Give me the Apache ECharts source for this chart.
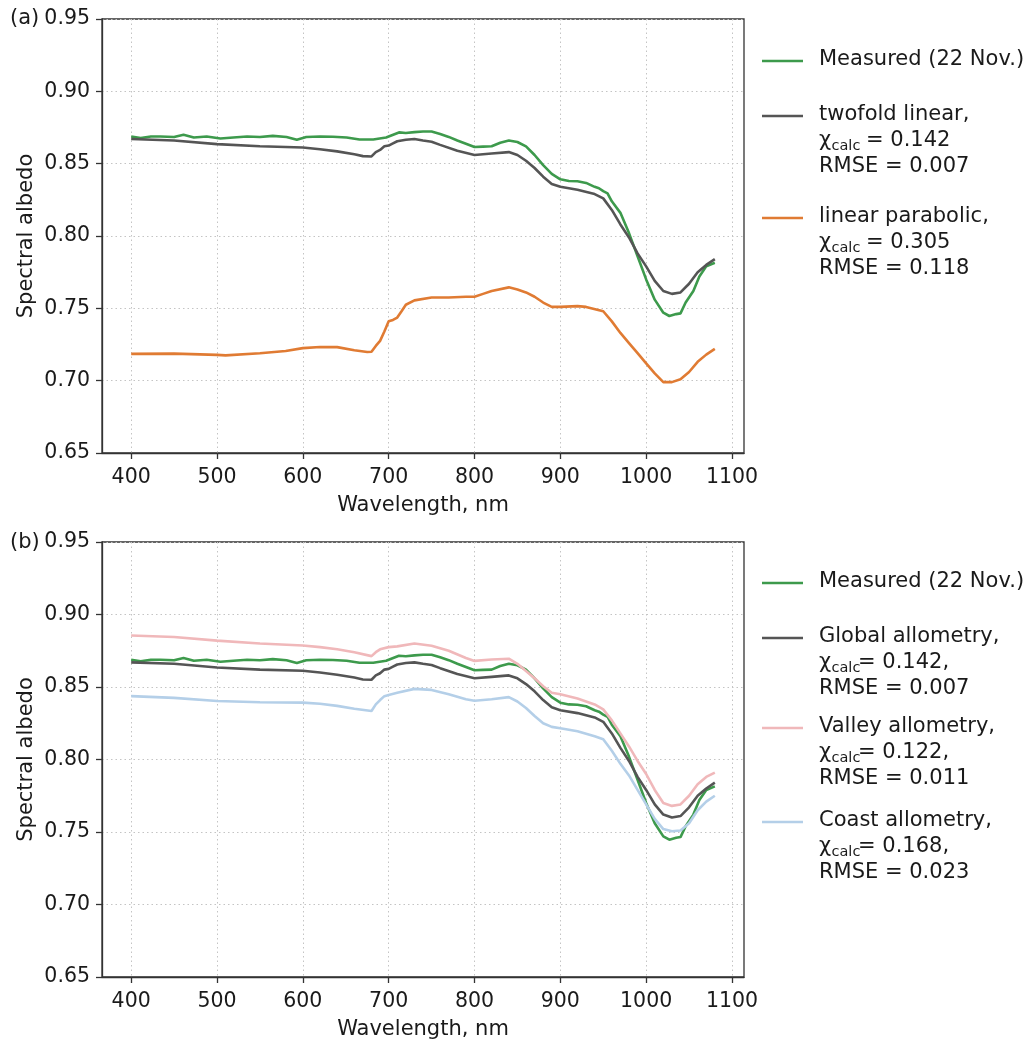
<!DOCTYPE html>
<html>
<head>
<meta charset="utf-8">
<script src="https://cdn.jsdelivr.net/npm/echarts@6/dist/echarts.min.js"></script>
<style>
html, body { margin: 0; padding: 0; background: #fff; }
#chart { width: 1031px; height: 1042px; }
</style>
</head>
<body>
<div id="chart"></div>
<script>
// Spectral albedo, wavelength (nm) vs albedo
const xTicks = [400, 500, 600, 700, 800, 900, 1000, 1100];

const measured = [
  [400, 0.8688], [411, 0.8677], [423, 0.8688], [434, 0.8688], [450, 0.8684], [461, 0.8700],
  [473, 0.8681], [488, 0.8688], [504, 0.8674], [519, 0.8681], [535, 0.8688], [550, 0.8684],
  [565, 0.8692], [581, 0.8684], [593, 0.8665], [604, 0.8684], [620, 0.8688], [635, 0.8686],
  [651, 0.8681], [666, 0.8667], [682, 0.8667], [697, 0.8681], [712, 0.8716], [720, 0.8712],
  [730, 0.8718], [740, 0.8722], [750, 0.8722], [760, 0.8705], [770, 0.8685], [780, 0.8660],
  [790, 0.8638], [800, 0.8615], [810, 0.8618], [820, 0.8620], [830, 0.8645], [840, 0.8660],
  [850, 0.8650], [860, 0.8620], [870, 0.8560], [880, 0.8490], [890, 0.8430], [900, 0.8392],
  [910, 0.8380], [920, 0.8378], [930, 0.8367], [940, 0.8340], [945, 0.8330], [950, 0.8310],
  [955, 0.8295], [960, 0.8240], [970, 0.8160], [980, 0.8020], [990, 0.7860], [1000, 0.7700],
  [1010, 0.7560], [1020, 0.7470], [1027, 0.7447], [1035, 0.7460], [1040, 0.7465], [1046, 0.7540],
  [1055, 0.7620], [1062, 0.7720], [1070, 0.7790], [1080, 0.7815]
];

const twofoldLinear = [
  [400, 0.867], [450, 0.866], [500, 0.8635], [550, 0.8620], [600, 0.8612], [620, 0.8600],
  [640, 0.8585], [660, 0.8565], [670, 0.8552], [680, 0.8550], [685, 0.8580], [690, 0.8595],
  [695, 0.8620], [700, 0.8625], [705, 0.8640], [710, 0.8655], [720, 0.8665], [730, 0.8670],
  [740, 0.8660], [750, 0.8652], [760, 0.8630], [780, 0.8590], [800, 0.8560], [820, 0.8570],
  [840, 0.8580], [850, 0.8560], [860, 0.8520], [870, 0.8470], [880, 0.8410], [890, 0.8360],
  [900, 0.8340], [920, 0.8320], [940, 0.8290], [950, 0.8260], [960, 0.8180], [970, 0.8080],
  [980, 0.7990], [990, 0.7880], [1000, 0.7790], [1010, 0.7690], [1020, 0.7620], [1030, 0.7600],
  [1040, 0.7610], [1050, 0.7670], [1060, 0.7750], [1070, 0.7800], [1080, 0.7840]
];

const linearParabolic = [
  [400, 0.7185], [450, 0.7187], [500, 0.7178], [510, 0.7175], [550, 0.7190], [580, 0.7205],
  [600, 0.7225], [620, 0.7233], [640, 0.7232], [660, 0.7210], [675, 0.7198], [680, 0.7200],
  [685, 0.7240], [690, 0.7275], [695, 0.7340], [700, 0.7410], [705, 0.7420], [710, 0.7436],
  [715, 0.7480], [720, 0.7525], [730, 0.7555], [750, 0.7575], [770, 0.7575], [790, 0.7580],
  [800, 0.7580], [810, 0.7600], [820, 0.7620], [840, 0.7645], [850, 0.7630], [860, 0.7610],
  [870, 0.7580], [880, 0.7540], [890, 0.7510], [900, 0.7510], [920, 0.7515], [930, 0.7510],
  [950, 0.7480], [960, 0.7410], [970, 0.7330], [980, 0.7260], [990, 0.7190], [1000, 0.7120],
  [1010, 0.7050], [1020, 0.6990], [1030, 0.6990], [1040, 0.7010], [1050, 0.7060], [1060, 0.7130],
  [1070, 0.7180], [1080, 0.7220]
];

const valleyAllometry = [
  [400, 0.8855], [450, 0.8845], [500, 0.8820], [550, 0.8800], [600, 0.8786], [620, 0.8775],
  [640, 0.8760], [660, 0.8740], [680, 0.8713], [685, 0.8740], [690, 0.8760], [700, 0.8775],
  [710, 0.8780], [730, 0.8800], [750, 0.8785], [770, 0.8750], [790, 0.8700], [800, 0.8680],
  [820, 0.8690], [840, 0.8695], [850, 0.8660], [860, 0.8610], [870, 0.8560], [880, 0.8505],
  [890, 0.8460], [900, 0.8450], [920, 0.8420], [940, 0.8380], [950, 0.8346], [960, 0.8270],
  [970, 0.8180], [980, 0.8090], [990, 0.7990], [1000, 0.7900], [1010, 0.7790], [1020, 0.7700],
  [1030, 0.7680], [1040, 0.7690], [1050, 0.7750], [1060, 0.7830], [1070, 0.7880], [1080, 0.7910]
];

const coastAllometry = [
  [400, 0.8437], [450, 0.8425], [500, 0.8403], [550, 0.8395], [600, 0.8392], [620, 0.8385],
  [640, 0.8370], [660, 0.8350], [680, 0.8334], [685, 0.8380], [690, 0.8410], [695, 0.8437],
  [700, 0.8445], [710, 0.8460], [730, 0.8487], [750, 0.8480], [770, 0.8450], [790, 0.8415],
  [800, 0.8405], [820, 0.8415], [840, 0.8430], [850, 0.8400], [860, 0.8355], [870, 0.8300],
  [880, 0.8250], [890, 0.8225], [900, 0.8215], [920, 0.8195], [940, 0.8160], [950, 0.8140],
  [960, 0.8060], [970, 0.7970], [980, 0.7890], [990, 0.7790], [1000, 0.7690], [1010, 0.7590],
  [1020, 0.7520], [1030, 0.7505], [1040, 0.7510], [1050, 0.7560], [1060, 0.7650], [1070, 0.7710],
  [1080, 0.7750]
];

const COLORS = {
  measured: '#3d9a4c',
  model: '#555555',
  parabolic: '#e07b33',
  valley: '#f0b8ba',
  coast: '#b4cfe8'
};
const FONT = 'DejaVu Sans';
const AXIS_COLOR = '#333333';
const TEXT_COLOR = '#1a1a1a';

function xAxis(gridIndex) {
  return {
    type: 'value', gridIndex, min: 366, max: 1114,
    name: 'Wavelength, nm', nameLocation: 'middle', nameGap: 42,
    nameTextStyle: { fontFamily: FONT, fontSize: 21, color: TEXT_COLOR },
    axisLine: { show: true, onZero: false, lineStyle: { color: AXIS_COLOR, width: 1.3 } },
    axisTick: { show: true, length: 6, customValues: xTicks, lineStyle: { color: AXIS_COLOR, width: 1.3 } },
    axisLabel: { customValues: xTicks, fontFamily: FONT, fontSize: 20.5, color: TEXT_COLOR, margin: 14,
      formatter: v => String(v) },
    splitLine: { show: true, lineStyle: { type: [1.5, 3], color: '#c4c4c4', width: 1 } }
  };
}
function yAxis(gridIndex) {
  return {
    type: 'value', gridIndex, min: 0.65, max: 0.95, interval: 0.05,
    name: 'Spectral albedo', nameLocation: 'middle', nameGap: 65, nameMoveOverlap: false,
    nameTextStyle: { fontFamily: FONT, fontSize: 21, color: TEXT_COLOR },
    axisLine: { show: true, onZero: false, lineStyle: { color: AXIS_COLOR, width: 1.3 } },
    axisTick: { show: true, length: 6, lineStyle: { color: AXIS_COLOR, width: 1.3 } },
    axisLabel: { fontFamily: FONT, fontSize: 20.5, color: TEXT_COLOR, margin: 12,
      formatter: v => v.toFixed(2) },
    splitLine: { show: true, lineStyle: { type: [1.5, 3], color: '#c4c4c4', width: 1 } }
  };
}
function line(name, data, color, idx, z) {
  return {
    type: 'line', name, data, xAxisIndex: idx, yAxisIndex: idx,
    symbol: 'none', smooth: false, clip: true, z,
    lineStyle: { color, width: 2.6 }
  };
}

// Legend blocks: a coloured sample line followed by text rows; rows may carry
// a chi_calc subscript.
function legendEntry(x, y, color, rows, chiGap) {
  const els = [{
    type: 'line', shape: { x1: x, y1: y + 1, x2: x + 41, y2: y + 1 },
    style: { stroke: color, lineWidth: 2.6 }
  }];
  const tx = x + 57;
  rows.forEach((row, i) => {
    const ry = y + i * 26;
    const base = { fontFamily: FONT, fontSize: 21, fill: TEXT_COLOR, verticalAlign: 'middle', align: 'left' };
    if (row.chi) {
      els.push({ type: 'text', x: tx, y: ry, style: Object.assign({ text: 'χ' }, base) });
      els.push({ type: 'text', x: tx + 12.5, y: ry + 5.5, style: Object.assign({}, base, { text: 'calc', fontSize: 14.5 }) });
      els.push({ type: 'text', x: tx + chiGap, y: ry, style: Object.assign({ text: row.text }, base) });
    } else {
      els.push({ type: 'text', x: tx, y: ry, style: Object.assign({ text: row.text }, base) });
    }
  });
  return els;
}

const legendA = [
  [60, COLORS.measured, [{ text: 'Measured (22 Nov.)' }]],
  [115, COLORS.model, [{ text: 'twofold linear,' }, { chi: true, text: '= 0.142' }, { text: 'RMSE = 0.007' }]],
  [217, COLORS.parabolic, [{ text: 'linear parabolic,' }, { chi: true, text: '= 0.305' }, { text: 'RMSE = 0.118' }]]
];
const legendB = [
  [582, COLORS.measured, [{ text: 'Measured (22 Nov.)' }]],
  [637, COLORS.model, [{ text: 'Global allometry,' }, { chi: true, text: '= 0.142,' }, { text: 'RMSE = 0.007' }]],
  [727, COLORS.valley, [{ text: 'Valley allometry,' }, { chi: true, text: '= 0.122,' }, { text: 'RMSE = 0.011' }]],
  [821, COLORS.coast, [{ text: 'Coast allometry,' }, { chi: true, text: '= 0.168,' }, { text: 'RMSE = 0.023' }]]
];

let graphics = [];
legendA.forEach(e => { graphics = graphics.concat(legendEntry(762, e[0], e[1], e[2], 47)); });
legendB.forEach(e => { graphics = graphics.concat(legendEntry(762, e[0], e[1], e[2], 39)); });
graphics.push({ type: 'text', x: 10, y: 19, style: { text: '(a)', fontFamily: FONT, fontSize: 21, fill: TEXT_COLOR, verticalAlign: 'middle' } });
graphics.push({ type: 'text', x: 10, y: 543, style: { text: '(b)', fontFamily: FONT, fontSize: 21, fill: TEXT_COLOR, verticalAlign: 'middle' } });

const chart = echarts.init(document.getElementById('chart'), null, { renderer: 'canvas' });
chart.setOption({
  animation: false,
  backgroundColor: '#ffffff',
  grid: [
    { left: 102, top: 19, width: 642, height: 434, show: true, borderColor: AXIS_COLOR, borderWidth: 1.3, backgroundColor: 'transparent' },
    { left: 102, top: 542, width: 642, height: 435, show: true, borderColor: AXIS_COLOR, borderWidth: 1.3, backgroundColor: 'transparent' }
  ],
  xAxis: [xAxis(0), xAxis(1)],
  yAxis: [yAxis(0), yAxis(1)],
  series: [
    line('Measured (22 Nov.)', measured, COLORS.measured, 0, 2),
    line('twofold linear', twofoldLinear, COLORS.model, 0, 3),
    line('linear parabolic', linearParabolic, COLORS.parabolic, 0, 4),
    line('Measured (22 Nov.)', measured, COLORS.measured, 1, 2),
    line('Global allometry', twofoldLinear, COLORS.model, 1, 3),
    line('Valley allometry', valleyAllometry, COLORS.valley, 1, 4),
    line('Coast allometry', coastAllometry, COLORS.coast, 1, 5)
  ],
  graphic: graphics
});
</script>
</body>
</html>
